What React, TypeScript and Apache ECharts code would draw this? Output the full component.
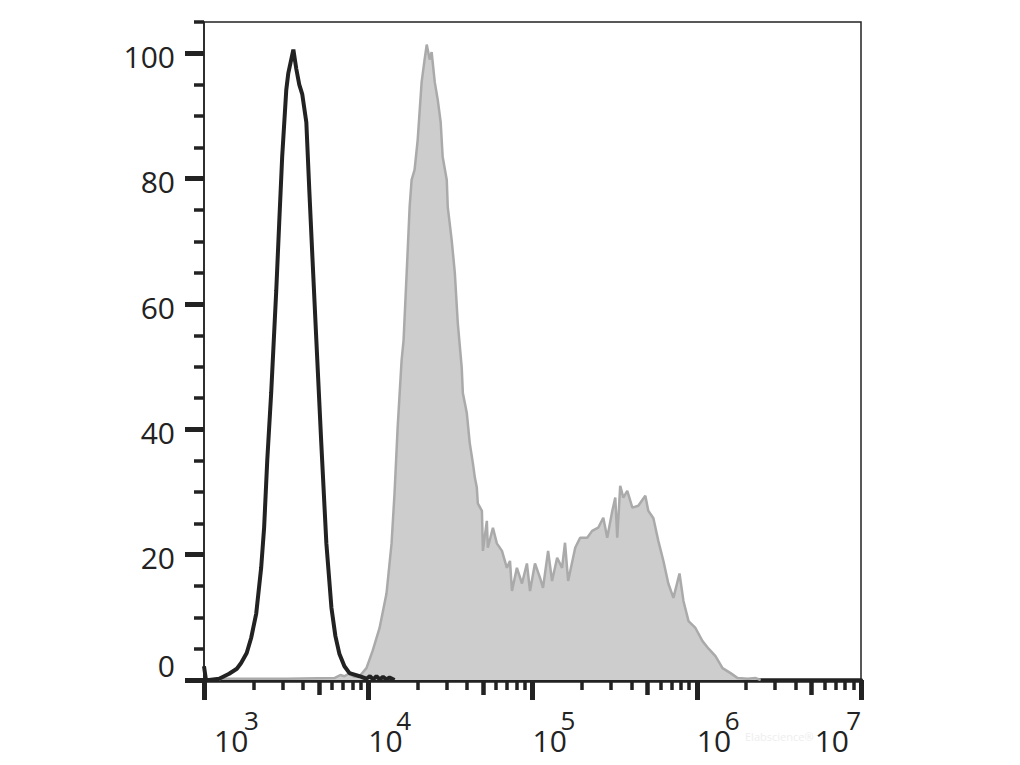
import React, { useEffect, useRef } from "react";
import * as echarts from "echarts";

// x values are log10 of fluorescence intensity; y values are % of max
const controlX = [3.0, 3.012, 3.031, 3.092, 3.153, 3.2, 3.226, 3.26, 3.287, 3.318, 3.348, 3.366, 3.385, 3.409, 3.44, 3.458, 3.476, 3.501, 3.513, 3.544, 3.562, 3.58, 3.598, 3.623, 3.641, 3.66, 3.684, 3.714, 3.745, 3.776, 3.8, 3.824, 3.855, 3.886, 3.947, 3.989, 4.01, 4.03, 4.05, 4.07, 4.09, 4.11, 4.13, 4.16];
const controlY = [2.2, 0, 0, 0.2, 1.0, 1.8, 2.7, 4.3, 6.7, 10.6, 17.9, 24.3, 35.0, 45.8, 62.2, 73.0, 83.5, 94.2, 96.8, 100.6, 97.5, 95.0, 93.5, 89.0, 78.2, 67.5, 54.2, 37.8, 21.8, 11.5, 7.0, 4.2, 2.2, 1.1, 0.6, 0.2, 0.6, 0.1, 0.6, 0.1, 0.5, 0.1, 0.4, 0];

const stainedX = [3.09, 3.1, 3.5, 3.794, 3.83, 3.855, 3.88, 3.916, 3.947, 3.989, 4.026, 4.069, 4.111, 4.142, 4.16, 4.179, 4.203, 4.215, 4.234, 4.252, 4.264, 4.282, 4.301, 4.325, 4.343, 4.356, 4.374, 4.386, 4.405, 4.423, 4.441, 4.453, 4.478, 4.484, 4.508, 4.527, 4.545, 4.569, 4.576, 4.6, 4.618, 4.637, 4.649, 4.661, 4.667, 4.692, 4.698, 4.722, 4.728, 4.759, 4.783, 4.814, 4.844, 4.863, 4.875, 4.905, 4.936, 4.966, 4.985, 5.015, 5.046, 5.064, 5.095, 5.119, 5.15, 5.18, 5.198, 5.217, 5.26, 5.29, 5.333, 5.363, 5.4, 5.431, 5.455, 5.486, 5.504, 5.516, 5.534, 5.553, 5.577, 5.608, 5.644, 5.687, 5.705, 5.736, 5.766, 5.797, 5.827, 5.858, 5.895, 5.919, 5.95, 5.992, 6.035, 6.072, 6.114, 6.157, 6.206, 6.249, 6.31, 6.359, 6.389];
const stainedY = [0, 0.2, 0.2, 0.3, 0.8, 0.6, 1.0, 0.5, 0.6, 1.9, 4.6, 8.3, 13.8, 21.8, 29.8, 40.3, 51.0, 54.2, 65.0, 75.5, 79.8, 81.4, 86.2, 95.4, 99.0, 101.4, 99.0, 100.2, 95.4, 92.6, 89.0, 83.5, 79.8, 75.5, 70.2, 65.0, 57.0, 49.9, 45.8, 42.6, 37.8, 34.6, 32.3, 30.7, 28.2, 27.0, 20.6, 25.4, 21.1, 24.3, 21.8, 20.6, 17.9, 19.0, 14.2, 17.9, 15.4, 18.6, 14.2, 18.6, 16.3, 14.7, 20.6, 15.8, 19.5, 17.9, 21.9, 15.8, 21.1, 22.7, 22.7, 23.8, 24.3, 25.9, 22.7, 27.0, 29.1, 22.7, 31.0, 29.1, 30.2, 27.5, 27.8, 29.4, 27.0, 25.8, 22.2, 19.0, 15.4, 13.1, 17.0, 12.6, 9.4, 8.3, 6.2, 5.0, 3.8, 1.9, 1.1, 0.3, 0.2, 0.3, 0];

const decades = [3, 4, 5, 6, 7];
const yMajor = [0, 20, 40, 60, 80, 100];
const yMinor = [5, 10, 15, 25, 30, 35, 45, 50, 55, 65, 70, 75, 85, 90, 95, 105];
const minorMultipliers = [2, 3, 4, 6, 7, 8, 9];
const midMultipliers = [5];
const labelBase = "10";

const INK = "#222222";
const FONT = "'Open Sans', 'Noto Sans', sans-serif";

function logTicks(mults: number[]) {
  const out: number[] = [];
  for (let d = 3; d < 7; d++) for (const k of mults) out.push(Math.log10(k) + d);
  return out;
}

export default function App() {
  const ref = useRef<HTMLDivElement>(null);
  useEffect(() => {
    if (!ref.current) return;
    const chart = echarts.init(ref.current, null, { renderer: "svg" });
    const hiddenX = {
      type: "value",
      min: 3,
      max: 7,
      position: "bottom",
      axisLine: { show: false, onZero: false },
      splitLine: { show: false },
    };
    const option: any = {
      animation: false,
      backgroundColor: "#ffffff",
      grid: {
        left: 204,
        right: 159,
        top: 22,
        bottom: 85,
        show: true,
        borderColor: INK,
        borderWidth: 1.5,
        backgroundColor: "transparent",
      },
      xAxis: [
        {
          type: "value",
          min: 3,
          max: 7,
          position: "bottom",
          axisLine: { show: true, onZero: false, lineStyle: { color: INK, width: 4.5 } },
          axisTick: { show: true, customValues: decades, length: 20, lineStyle: { color: INK, width: 5 } },
          splitLine: { show: false },
          axisLabel: {
            customValues: decades,
            margin: 48,
            align: "left",
            alignMinLabel: "left",
            alignMaxLabel: "right",
            formatter: (v: number) => {
              const e = Math.round(v);
              if (e === 3) return `{p3|}{b|${labelBase}}`;
              if (e === 7) return `{b|${labelBase}}{p7|}`;
              return `{b|${labelBase}}`;
            },
            rich: {
              p3: { width: 10, height: 2 },
              p7: { width: 12, height: 2 },
              b: { fontSize: 30, lineHeight: 24, color: INK, fontFamily: FONT },
            },
          },
        },
        {
          ...hiddenX,
          axisTick: { show: true, customValues: logTicks(minorMultipliers), length: 10, lineStyle: { color: INK, width: 3.5 } },
          axisLabel: { show: false },
        },
        {
          ...hiddenX,
          axisTick: { show: true, customValues: logTicks(midMultipliers), length: 15, lineStyle: { color: INK, width: 4.5 } },
          axisLabel: {
            customValues: decades,
            margin: 30,
            align: "left",
            alignMinLabel: "left",
            alignMaxLabel: "right",
            formatter: (v: number) => {
              const e = Math.round(v);
              if (e === 3) return `{p3|}{s|${e}}`;
              if (e === 7) return `{s|${e}}`;
              return `{p|}{s|${e}}`;
            },
            rich: {
              p3: { width: 40, height: 2 },
              p: { width: 28, height: 2 },
              s: { fontSize: 26, lineHeight: 20, color: INK, fontFamily: FONT },
            },
          },
        },
      ],
      yAxis: [
        {
          type: "value",
          min: 0,
          max: 105,
          position: "left",
          axisLine: { show: true, onZero: false, lineStyle: { color: INK, width: 1.5 } },
          axisTick: { show: true, customValues: yMajor, length: 19, lineStyle: { color: INK, width: 5 } },
          splitLine: { show: false },
          axisLabel: {
            customValues: yMajor,
            margin: 29,
            color: INK,
            fontFamily: FONT,
            fontSize: 30,
            formatter: (v: number) => (v === 0 ? `{z|${v}}` : `{n|${v}}`),
            rich: {
              n: { fontSize: 30, padding: [6, 0, 0, 0], color: INK, fontFamily: FONT },
              z: { fontSize: 30, padding: [0, 0, 30, 0], color: INK, fontFamily: FONT },
            },
          },
        },
        {
          type: "value",
          min: 0,
          max: 105,
          position: "left",
          axisLine: { show: false, onZero: false },
          axisTick: { show: true, customValues: yMinor, length: 10, lineStyle: { color: INK, width: 3.5 } },
          axisLabel: { show: false },
          splitLine: { show: false },
        },
      ],
      series: [
        {
          type: "line",
          name: "Stained",
          data: stainedX.map((x, i) => [x, stainedY[i]]),
          showSymbol: false,
          symbol: "none",
          lineStyle: { color: "#aaaaaa", width: 2.5 },
          areaStyle: { color: "#cdcdcd", opacity: 1 },
          clip: true,
          z: 2,
        },
        {
          type: "line",
          name: "Control",
          data: controlX.map((x, i) => [x, controlY[i]]),
          showSymbol: false,
          symbol: "none",
          lineStyle: { color: INK, width: 4 },
          clip: true,
          z: 3,
        },
      ],
      graphic: [
        {
          type: "text",
          left: 745,
          top: 731,
          style: { text: "Elabscience®", fill: "#eeeeee", font: "11px 'Open Sans', sans-serif" },
          z: 0,
        },
      ],
    };
    chart.setOption(option);
    return () => chart.dispose();
  }, []);
  return <div ref={ref} style={{ position: "absolute", left: 0, top: 0, width: 1020, height: 765 }} />;
}
